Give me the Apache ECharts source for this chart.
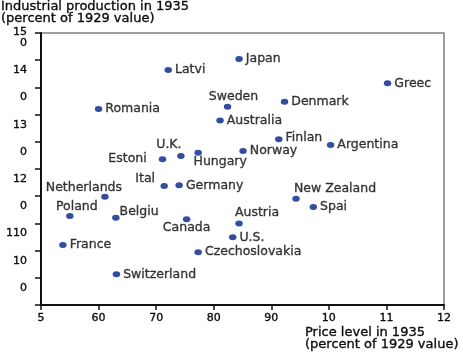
<!DOCTYPE html>
<html>
<head>
<meta charset="utf-8">
<script src="https://cdn.jsdelivr.net/npm/echarts@6/dist/echarts.min.js"></script>
<style>html,body{margin:0;padding:0;background:#fff}#c{width:463px;height:354px}</style>
</head>
<body>
<div id="c"></div>
<script>
// ---- data ----
var countries = ["Latvi","Japan","Romania","Sweden","Australia","Greec","Denmark","Finlan","Argentina","Norway",
  "Estoni","U.K.","Hungary","Ital","Germany","Netherlands","Poland","Belgiu","Canada","Austria",
  "New Zealand","Spai","U.S.","France","Czechoslovakia","Switzerland"];
var priceLevel = [72.1,84.4,60.0,82.4,81.1,110.2,92.3,91.3,100.3,85.1,
  71.1,74.3,77.3,71.4,74.0,61.1,55.0,63.0,75.3,84.4,
  94.3,97.3,83.3,53.8,77.3,63.1];
var industrialProduction = [136.4,140.4,122.1,122.9,117.8,131.5,124.7,110.9,108.8,106.6,
  103.6,104.8,106.0,93.75,94.0,89.8,82.7,82.1,81.5,80.0,
  89.1,86.0,74.9,72.1,69.4,61.3];
var xTickValues = [50,60,70,80,90,100,110,120];
var xTickLabels = ["5","60","70","80","90","10","11","12"];
var yTickValues = [50,60,70,80,90,100,110,120,130,140,150];
var yLabelValues = [148.35,136.3,126.3,116.3,106.3,96.3,86.3,76.3,66.3,56.3];
var yTickLabels = ["15\n0","14","0","13","0","12","0","110","10","0"];
var yTitle = "Industrial production in 1935\n(percent of 1929 value)";
var xTitle = "Price level in 1935\n(percent of 1929 value)";

// ---- label placement (styling) ----
var placement = {
  "Sweden": {position:"top", distance:2, offset:[6,2]},
  "U.K.": {position:"top", distance:2, offset:[-12,0]},
  "Ital": {position:"top", distance:2, offset:[-19,4]},
  "Netherlands": {position:"top", distance:2, offset:[-21,3]},
  "Poland": {position:"top", distance:2, offset:[7,2]},
  "Austria": {position:"top", distance:2, offset:[18,1]},
  "New Zealand": {position:"top", distance:2, offset:[39,2]},
  "Hungary": {position:"bottom", distance:2, offset:[22,-2]},
  "Canada": {position:"bottom", distance:2, offset:[0,-3]},
  "Estoni": {position:"left", distance:12, offset:[0,0]},
  "Belgiu": {position:"right", distance:3, offset:[-3,-6]},
  "Finlan": {position:"right", distance:3, offset:[0,-2]}
};

var FONT = "DejaVu Sans";
var TXT = '#0d0d0d';
var BOLDEN = {textBorderColor:TXT, textBorderWidth:0.35};
function ts(o){ for (var k in BOLDEN) o[k]=BOLDEN[k]; return o; }
var data = countries.map(function(n,i){
  var item = {name:n, value:[priceLevel[i], industrialProduction[i]]};
  if (placement[n]) item.label = placement[n];
  return item;
});

var chart = echarts.init(document.getElementById('c'), null, {renderer:'canvas'});
chart.setOption({
  animation:false,
  backgroundColor:'#fff',
  title:[
    {text:yTitle, left:1, top:1, padding:0,
     textStyle:ts({fontFamily:FONT, fontSize:13, fontWeight:'normal', color:TXT, lineHeight:12})},
    {text:xTitle, left:305, top:327, padding:0,
     textStyle:ts({fontFamily:FONT, fontSize:13, fontWeight:'normal', color:TXT, lineHeight:12})}
  ],
  grid:{left:41, right:19, top:33, bottom:49, show:true, borderColor:'#808080', borderWidth:1.5, backgroundColor:'#fff'},
  xAxis:{
    type:'value', min:50, max:120, interval:10,
    axisLine:{show:true, lineStyle:{color:'#111', width:2}},
    axisTick:{show:true, inside:false, length:5, lineStyle:{color:'#111', width:1.5}},
    splitLine:{show:false},
    axisLabel:ts({fontFamily:FONT, fontSize:11, color:TXT, margin:8,
      formatter:function(v){var k=xTickValues.indexOf(v);return k>=0?xTickLabels[k]:'';}})
  },
  yAxis:{
    type:'value', min:50, max:150, interval:10,
    axisLine:{show:true, lineStyle:{color:'#111', width:2}},
    axisTick:{show:true, inside:false, length:6, customValues:yTickValues, lineStyle:{color:'#111', width:1.5}},
    splitLine:{show:false},
    axisLabel:ts({fontFamily:FONT, fontSize:11, lineHeight:11, color:TXT, margin:14, align:'right',
      customValues:yLabelValues, hideOverlap:false, showMinLabel:true, showMaxLabel:true,
      formatter:function(v){
        var best=0,bd=1e9;
        for(var i=0;i<yLabelValues.length;i++){var d=Math.abs(yLabelValues[i]-v);if(d<bd){bd=d;best=i;}}
        return yTickLabels[best];
      }})
  },
  series:[{
    type:'scatter',
    symbol:'circle',
    symbolSize:[7.5,6],
    itemStyle:{color:'#00218a'},
    label:ts({show:true, position:'right', distance:3, formatter:'{b}',
      fontFamily:FONT, fontSize:12.5, color:TXT}),
    data:data
  }]
});
</script>
</body>
</html>
